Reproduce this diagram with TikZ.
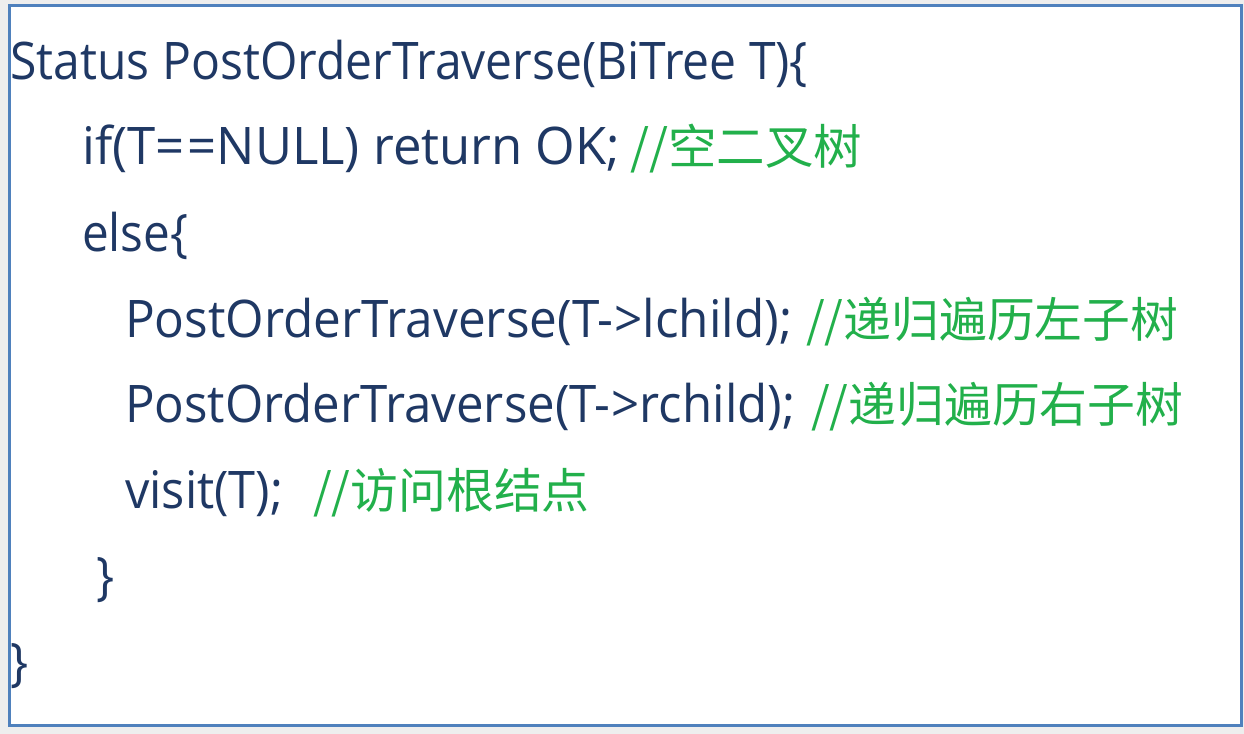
\documentclass[tikz,border=0pt]{standalone}
\usepackage{fontspec}
\usepackage{graphicx}
\setmainfont{Open Sans}[FakeStretch=0.92]
\newfontfamily\cjk{Noto Sans CJK SC}
\newcommand\fitw[2]{\resizebox{#1bp}{\height}{#2}}
\definecolor{codeblue}{HTML}{1F3864}
\definecolor{cmtgreen}{HTML}{22B04B}
\definecolor{frameblue}{HTML}{4F81BD}
\definecolor{outgray}{HTML}{EEEEEE}
\begin{document}
\begin{tikzpicture}[x=1bp,y=-1bp,
  code/.style={anchor=base west,inner sep=0pt,text=codeblue,font=\fontsize{52}{52}\selectfont},
  cmt/.style={anchor=base west,inner sep=0pt,text=cmtgreen,font=\cjk\fontsize{48}{48}\selectfont}]
\useasboundingbox (0,0) rectangle (1244,734);
\fill[outgray] (0,0) rectangle (1244,734);
\draw[frameblue,line width=3bp,fill=white] (9,6) rectangle (1241,725);
\node[code] (l1) at (10,80) {\fitw{798}{Status PostOrderTraverse(BiTree T)\{}};
\node[code] (l2) at (82,165) {\fitw{538}{if(T{=}\kern3bp{=}NULL) return OK;}};
\node[cmt] (c2) at (630,165) {\fitw{232}{//空二叉树}};
\node[code] (l3) at (82,251) {else\{};
\node[code] (l4) at (125,337) {\fitw{667}{PostOrderTraverse(T-\kern1bp>lchild);}};
\node[cmt] (c4) at (806,337) {//递归遍历左子树};
\node[code] (l5) at (125,422) {\fitw{670}{PostOrderTraverse(T-\kern1bp>rchild);}};
\node[cmt] (c5) at (811,422) {//递归遍历右子树};
\node[code] (l6) at (125,508) {\fitw{158}{visit(T);}};
\node[cmt] (c6) at (313,508) {//访问根结点};
\node[code] (l7) at (96,594) {\}};
\node[code] (l8) at (10,680) {\}};
\end{tikzpicture}
\end{document}
